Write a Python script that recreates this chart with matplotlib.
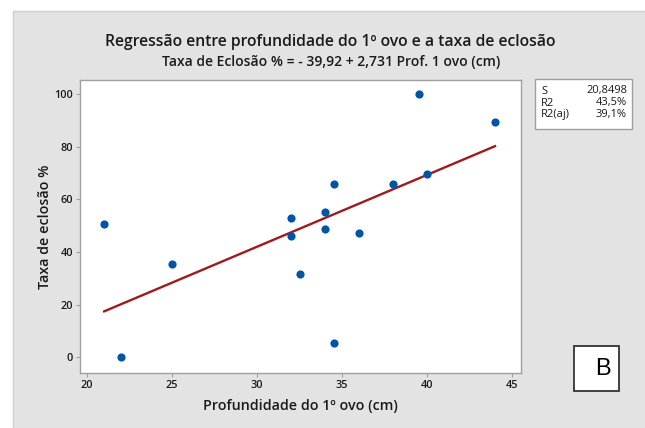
import matplotlib
matplotlib.use("Agg")
import matplotlib.pyplot as plt
from matplotlib.patches import Rectangle
import numpy as np

# Data
prof = [21.0, 22.0, 25.0, 32.0, 32.0, 32.5, 34.0, 34.0, 34.5, 34.5, 36.0, 38.0, 39.5, 40.0, 44.0]
taxa = [50.7, 0.0, 35.6, 53.1, 46.1, 31.8, 55.1, 48.9, 65.7, 5.4, 47.3, 65.7, 100.0, 69.5, 89.5]
intercept = -39.92
slope = 2.731
xticks = [20, 25, 30, 35, 40, 45]
yticks = [0, 20, 40, 60, 80, 100]
stats_labels = ["S", "R2", "R2(aj)"]
stats_values = ["20,8498", "43,5%", "39,1%"]

plt.rcParams['font.family'] = ['Open Sans', 'DejaVu Sans']

W, H = 645, 428
fig = plt.figure(figsize=(W / 100, H / 100), dpi=100)
fig.patch.set_facecolor("white")

def fx(px):
    return px / W

def fy(py):
    return 1 - py / H

# gray panel
fig.patches.append(Rectangle((fx(13), -0.05), 1.1 - fx(13), fy(11) + 0.05, transform=fig.transFigure,
                             facecolor="#E3E3E3", edgecolor="#CFCFCF", linewidth=1.0, zorder=-5))

ax = fig.add_axes([fx(80), fy(373), fx(521) - fx(80), fy(80) - fy(373)])
ax.set_zorder(5)
ax.set_facecolor("white")
ax.set_xlim(19.58, 45.53)
ax.set_ylim(-6.0, 105.4)

xs = np.array([min(prof), max(prof)])
ax.plot(xs, intercept + slope * xs, color="#A0191E", linewidth=1.7, zorder=2)
ax.plot(prof, taxa, linestyle="none", marker="o", markersize=5.9, color="#0055A5",
        markeredgewidth=0, zorder=3)

ax.set_xticks(xticks)
ax.set_yticks(yticks)
ax.tick_params(axis="both", direction="out", length=3, width=0.8, color="#A0A0A0",
               labelsize=7.8, labelcolor="#1A1A1A", pad=2)
for lab in ax.get_xticklabels() + ax.get_yticklabels():
    lab.set_fontweight("semibold")
for s in ax.spines.values():
    s.set_color("#A0A0A0")
    s.set_linewidth(1.0)

ax.set_xlabel("Profundidade do 1º ovo (cm)", fontsize=10.3, color="#1A1A1A", labelpad=6,
              weight="semibold")
ax.set_ylabel("Taxa de eclosão %", fontsize=10.3, color="#1A1A1A", labelpad=2,
              weight="semibold")

fig.text(fx(330), fy(42), "Regressão entre profundidade do 1º ovo e a taxa de eclosão",
         ha="center", va="center", fontsize=11.3, weight="semibold", color="#1A1A1A")
fig.text(fx(331), fy(62), "Taxa de Eclosão % = - 39,92 + 2,731 Prof. 1 ovo (cm)",
         ha="center", va="center", fontsize=10, weight="semibold", color="#1A1A1A")

# stats box
fig.patches.append(Rectangle((fx(535), fy(129)), fx(632) - fx(535), fy(79) - fy(129),
                             transform=fig.transFigure, facecolor="white",
                             edgecolor="#A0A0A0", linewidth=1.0, zorder=2))
for i, (lab, val) in enumerate(zip(stats_labels, stats_values)):
    yy = fy(91 + i * 12)
    fig.text(fx(541), yy, lab, ha="left", va="center", fontsize=8, color="#1A1A1A", zorder=3)
    fig.text(fx(627), yy, val, ha="right", va="center", fontsize=8, color="#1A1A1A", zorder=3)

# B box
fig.patches.append(Rectangle((fx(574), fy(391)), fx(619) - fx(574), fy(346) - fy(391),
                             transform=fig.transFigure, facecolor="white",
                             edgecolor="#333333", linewidth=1.3, zorder=2))
fig.text(fx(603), fy(369), "B", ha="center", va="center", fontsize=17,
         family=["Liberation Sans", "DejaVu Sans"], color="black", zorder=3)

fig.savefig("out.png", dpi=100)
